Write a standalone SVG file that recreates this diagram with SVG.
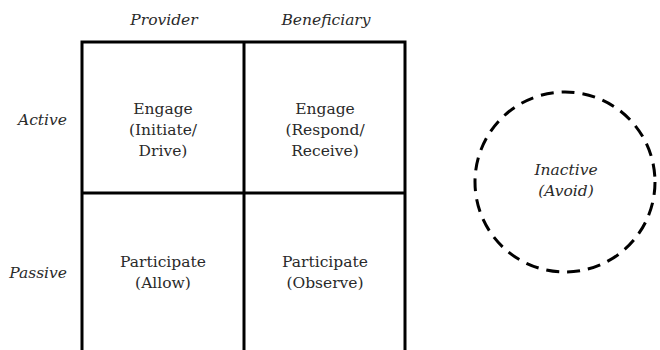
<svg xmlns="http://www.w3.org/2000/svg" width="660" height="350" viewBox="0 0 660 350">
<style>
.t{font-family:"DejaVu Serif","Liberation Serif",serif;font-size:15.5px;fill:#2a2a2a;text-anchor:middle}
.i{font-style:italic}
.r{text-anchor:end}
.ln{stroke:#000;stroke-width:3;fill:none}
.dash{stroke:#000;stroke-width:3;fill:none;stroke-dasharray:13 8}
</style>
<rect width="660" height="350" fill="#fff"/>
<g id="headers">
<text class="t i" x="164" y="25">Provider</text>
<text class="t i" x="326" y="25">Beneficiary</text>
<text class="t i r" x="67" y="125">Active</text>
<text class="t i r" x="67" y="278">Passive</text>
</g>
<g id="grid">
<path class="ln" d="M82,360 V42 H405 V360 M244,42 V360 M82,193 H405"/>
</g>
<g id="cell-provider-active">
<text class="t" x="163" y="114">Engage</text>
<text class="t" x="163" y="135">(Initiate/</text>
<text class="t" x="163" y="156">Drive)</text>
</g>
<g id="cell-beneficiary-active">
<text class="t" x="325" y="114">Engage</text>
<text class="t" x="325" y="135">(Respond/</text>
<text class="t" x="325" y="156">Receive)</text>
</g>
<g id="cell-provider-passive">
<text class="t" x="163" y="267">Participate</text>
<text class="t" x="163" y="288">(Allow)</text>
</g>
<g id="cell-beneficiary-passive">
<text class="t" x="325" y="267">Participate</text>
<text class="t" x="325" y="288">(Observe)</text>
</g>
<g id="inactive">
<circle class="dash" cx="565" cy="182" r="90"/>
<text class="t i" x="566" y="175">Inactive</text>
<text class="t i" x="566" y="196">(Avoid)</text>
</g>
<g id="connectors"></g>
</svg>
